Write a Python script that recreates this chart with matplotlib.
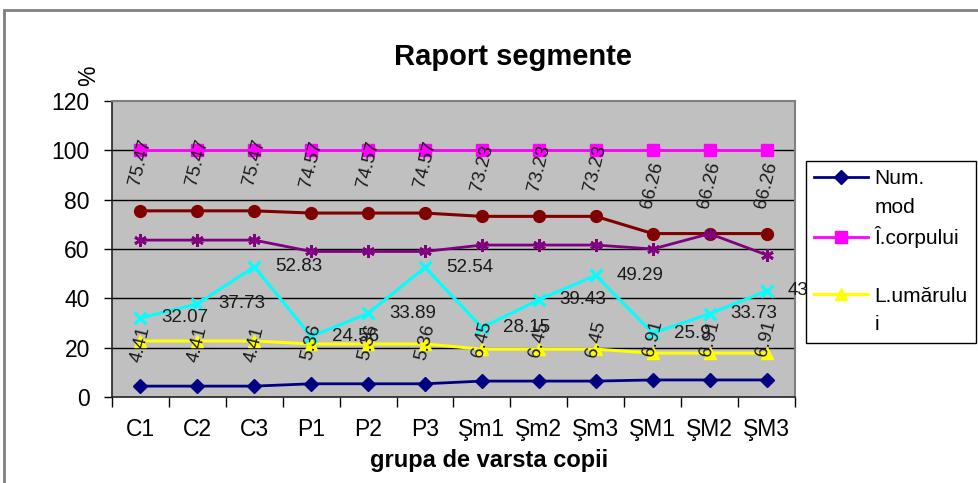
import matplotlib
matplotlib.use("Agg")
import matplotlib.pyplot as plt
from matplotlib.lines import Line2D
from matplotlib.patches import Rectangle
import numpy as np

plt.rcParams['font.family'] = ['Liberation Sans', 'DejaVu Sans']

categories = ["C1", "C2", "C3", "P1", "P2", "P3", "Şm1", "Şm2", "Şm3", "ŞM1", "ŞM2", "ŞM3"]
num_mod = [4.41, 4.41, 4.41, 5.36, 5.36, 5.36, 6.45, 6.45, 6.45, 6.91, 6.91, 6.91]
i_corpului = [100] * 12
l_umarului = [22.7, 22.7, 22.7, 21.5, 21.5, 21.5, 19.4, 19.4, 19.4, 17.8, 17.8, 17.8]
dark_red = [75.47, 75.47, 75.47, 74.57, 74.57, 74.57, 73.23, 73.23, 73.23, 66.26, 66.26, 66.26]
purple = [63.6, 63.6, 63.6, 59.0, 59.0, 59.0, 61.6, 61.6, 61.6, 60.0, 66.2, 57.6]
cyan = [32.07, 37.73, 52.83, 24.56, 33.89, 52.54, 28.15, 39.43, 49.29, 25.9, 33.73, 43]
cyan_labels = ["32.07", "37.73", "52.83", "24.56", "33.89", "52.54", "28.15", "39.43", "49.29", "25.9", "33.73", "43"]
yticks = [0, 20, 40, 60, 80, 100, 120]

fig = plt.figure(figsize=(9.79, 4.83), dpi=100)
ax = fig.add_axes([112/979, 1-397/483, (795-112)/979, (397-101)/483])
ax.set_facecolor('#C0C0C0')

x = np.arange(len(categories))

for yv in yticks[1:-1]:
    ax.axhline(yv, color='black', lw=1.0, zorder=1)

ln_navy, = ax.plot(x, num_mod, color='#000080', lw=2, marker='D', ms=7.5, zorder=4)
ln_mag, = ax.plot(x, i_corpului, color='#FF00FF', lw=2, marker='s', ms=8.5, zorder=4, clip_on=False)
ln_yel, = ax.plot(x, l_umarului, color='#FFFF00', lw=2.2, marker='^', ms=8, zorder=4)
ax.plot(x, dark_red, color='#800000', lw=2.2, marker='o', ms=8.5, zorder=4)
ax.plot(x, purple, color='#800080', lw=2, marker=(6, 2, 0), ms=9, mew=2, zorder=4)
ax.plot(x, cyan, color='#00FFFF', lw=2.2, marker='x', ms=9, mew=2.2, zorder=4)

for xi, v, lab in zip(x, cyan, cyan_labels):
    ax.annotate(lab, (xi, v), xytext=(15, 0), textcoords='offset points',
                ha='left', va='center', fontsize=13.5, color='#1a1a1a', zorder=6,
                annotation_clip=False)
for xi, v in zip(x, dark_red):
    ax.annotate(f"{v:.2f}", (xi, v), xytext=(0, 17), textcoords='offset points',
                ha='center', va='bottom', rotation=76, fontsize=13.5, color='#1a1a1a', zorder=6)
for xi, v in zip(x, num_mod):
    ax.annotate(f"{v:.2f}", (xi, v), xytext=(0, 16), textcoords='offset points',
                ha='center', va='bottom', rotation=76, fontsize=13.5, color='#1a1a1a', zorder=6)

ax.set_xlim(-0.5, len(categories) - 0.5)
ax.set_ylim(0, 120)
ax.set_yticks(yticks)
ax.set_yticklabels([str(t) for t in yticks], fontsize=16.5)
ax.tick_params(axis='y', direction='out', length=6, width=1, pad=10)
ax.set_xticks(x)
ax.set_xticklabels(categories, fontsize=16.5)
ax.set_xticks(np.arange(-0.5, len(categories), 1.0), minor=True)
ax.tick_params(axis='x', which='major', length=0, pad=15)
ax.tick_params(axis='x', which='minor', direction='out', length=7, width=1)

for s in ['left', 'bottom']:
    ax.spines[s].set_color('#222222')
    ax.spines[s].set_linewidth(1.2)
for s in ['top', 'right']:
    ax.spines[s].set_color('#808080')
    ax.spines[s].set_linewidth(1.5)

ax.set_ylabel('%', fontsize=16.5, rotation=90)
ax.yaxis.set_label_coords(-0.018, 1.085)

fig.text(513/979, 1-57/483, 'Raport segmente', fontsize=21, fontweight='bold',
         ha='center', va='center')
fig.text(489/979, 1-461/483, 'grupa de varsta copii', fontsize=17, fontweight='bold',
         ha='center', va='center')

blank = Line2D([], [], linestyle='none', color='none')
handles = [ln_navy, blank, ln_mag, blank, ln_yel, blank]
labels = ['Num.', 'mod', 'Î.corpului', ' ', 'L.umărulu', 'i']
leg = ax.legend(handles, labels, loc='upper left',
                bbox_to_anchor=(806/979, 1-161/483), bbox_transform=fig.transFigure,
                fontsize=15, frameon=True, fancybox=False, edgecolor='black',
                handlelength=2.6, handletextpad=0.3, labelspacing=0.46,
                borderpad=0.4, borderaxespad=0, framealpha=1)
leg.get_frame().set_linewidth(1.0)
leg.set_zorder(10)

fig.patches.append(Rectangle((4/979, -0.1), 1.2, 1.1 - 10/483,
                             transform=fig.transFigure, fill=False,
                             edgecolor='#808080', lw=2, figure=fig))

fig.savefig('out.png', dpi=100)
